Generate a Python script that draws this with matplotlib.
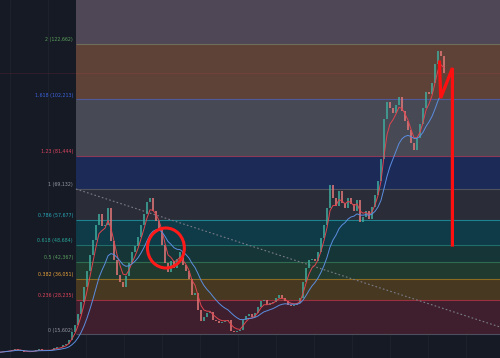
import numpy as np
import pandas as pd
import matplotlib
matplotlib.use('Agg')
import matplotlib.pyplot as plt
from matplotlib.patches import Ellipse

# closes (thousand USD), one bar every ~3 px of the reference
closes = [9.0, 9.2, 9.3, 9.6, 9.9, 10.1, 10.0, 9.6, 9.1, 9.0,
          9.1, 9.4, 9.7, 10.1, 9.8, 9.6, 9.7, 9.8, 10.6, 10.9,
          10.8, 11.5, 12.0, 13.5, 16.5, 18.9, 23.0, 27.5, 33.0, 39.0,
          45.0, 50.5, 56.0, 60.0, 55.5, 56.0, 62.0, 50.0, 43.0, 37.5,
          35.0, 33.0, 37.0, 42.0, 46.0, 48.0, 51.5, 56.0, 60.0, 64.5,
          66.0, 61.0, 57.5, 54.0, 48.5, 42.0, 38.5, 42.5, 40.0, 43.5,
          46.0, 41.0, 39.0, 36.0, 30.0, 31.0, 24.5, 20.5, 22.0, 23.5,
          24.0, 21.0, 20.5, 19.8, 20.0, 20.5, 20.8, 17.0, 16.5, 16.8,
          17.1, 20.8, 22.5, 23.0, 22.0, 23.5, 25.5, 28.0, 28.2, 26.5,
          27.2, 27.5, 29.0, 30.0, 29.0, 28.0, 26.3, 26.2, 26.5, 27.0,
          29.0, 35.0, 40.0, 43.0, 43.5, 42.5, 46.0, 51.0, 56.0, 62.0,
          70.5, 66.0, 63.0, 68.5, 64.0, 62.0, 66.0, 63.5, 61.0, 65.0,
          57.0, 59.0, 61.0, 58.0, 62.5, 67.0, 72.0, 80.0, 95.0, 101.0,
          99.0, 97.0, 100.0, 103.0, 98.0, 94.0, 91.0, 86.0, 83.5, 88.0,
          93.0, 99.0, 105.0, 104.0, 108.0, 115.0, 120.0, 118.0, 112.0]

# fibonacci levels
fib_ratios = [0, 0.236, 0.382, 0.5, 0.618, 0.786, 1, 1.23, 1.618, 2]
fib_prices = [15602, 28235, 36051, 42367, 48684, 57677, 69132, 81444, 102213, 122662]
fib_labels = ['0 (15,602)', '0.236 (28,235)', '0.382 (36,051)', '0.5 (42,367)',
              '0.618 (48,684)', '0.786 (57,677)', '1 (69,132)', '1.23 (81,444)',
              '1.618 (102,213)', '2 (122,662)']
line_cols = ['#4c4f5e', '#9a3040', '#8d6a22', '#2f6b4f', '#1f6e6c', '#1e8391',
             '#50535f', '#8a3a55', '#4f5a9a', '#6e6e58']
zone_cols = ['#3f1f2d', '#473821', '#213a2f', '#163537', '#0f3a47', '#2a2d38',
             '#1c2a58', '#474955', '#5e4238', '#4f4656']
lab_cols = ['#9598a1', '#e0455a', '#e8a33a', '#5aa060', '#26a69a', '#2aa9b8',
            '#9598a1', '#e04560', '#3c64e0', '#5aa05a']

# hand drawn annotations (bar index, price)
trend_x = [25.3, 166.7]
trend_y = [69132, 18291]
circle_xy = (55.3, 47396)
circle_w, circle_h = 12.3, 14736
mark_x = [146.5, 146.9, 150.8, 150.8]
mark_y = [115900, 102650, 113700, 48500]

prices = np.array(closes) * 1000
n = len(prices)
x = np.arange(n)
opens = np.r_[prices[0], prices[:-1]]

s = pd.Series(prices)
ma_fast = s.ewm(span=4).mean()
ma_slow = s.ewm(span=13).mean()

fig = plt.figure(figsize=(5, 3.58), dpi=100)
fig.patch.set_facecolor('#161a25')
ax = fig.add_axes([0, 0, 1, 1])
ax.set_facecolor('#161a25')
x_end = 500 / 3
ax.set_xlim(0, x_end)
ax.set_ylim(6871, 138761)
ax.axis('off')

# faint grid
for gx in np.arange(10, 500, 38) / 3:
    ax.axvline(gx, color='#ffffff', alpha=0.035, lw=0.6, zorder=0)

fib_start = 76 / 3
tops = fib_prices[1:] + [200000]
for lo, hi, c in zip(fib_prices, tops, zone_cols):
    ax.fill_between([fib_start, x_end], lo, hi, color=c, lw=0, zorder=1)
for p, c in zip(fib_prices, line_cols):
    ax.hlines(p, fib_start, x_end, color=c, lw=0.8, zorder=2)
for p, lab, c in zip(fib_prices, fib_labels, lab_cols):
    ax.annotate(lab, (fib_start, p), xytext=(-2.2, 1.2), textcoords='offset points',
                ha='right', va='bottom', fontsize=3.4, color=c)

# current price line
ax.axhline(prices[-1], color='#f23645', alpha=0.18, lw=0.5, zorder=2)

ax.plot(trend_x, trend_y, color='#7a7d88', lw=0.8, ls=(0, (1.5, 2)), zorder=3)

# candles
up = prices >= opens
ax.vlines(x[up], opens[up], prices[up], color='#3fae9f', lw=1.3, alpha=0.85, zorder=4)
ax.vlines(x[~up], opens[~up], prices[~up], color='#e8797a', lw=1.3, alpha=0.85, zorder=4)

ax.plot(x, ma_fast, color='#e0454f', lw=0.7, zorder=5)
ax.plot(x, ma_slow, color='#5b8ee0', lw=0.7, zorder=5)

ax.add_patch(Ellipse(circle_xy, circle_w, circle_h, fill=False, ec='#ff1a1a', lw=2.2, zorder=6))
ax.plot(mark_x, mark_y, color='#ff1010', lw=2.3, solid_joinstyle='miter', zorder=6)

fig.savefig('out.png', dpi=100, facecolor=fig.get_facecolor())
